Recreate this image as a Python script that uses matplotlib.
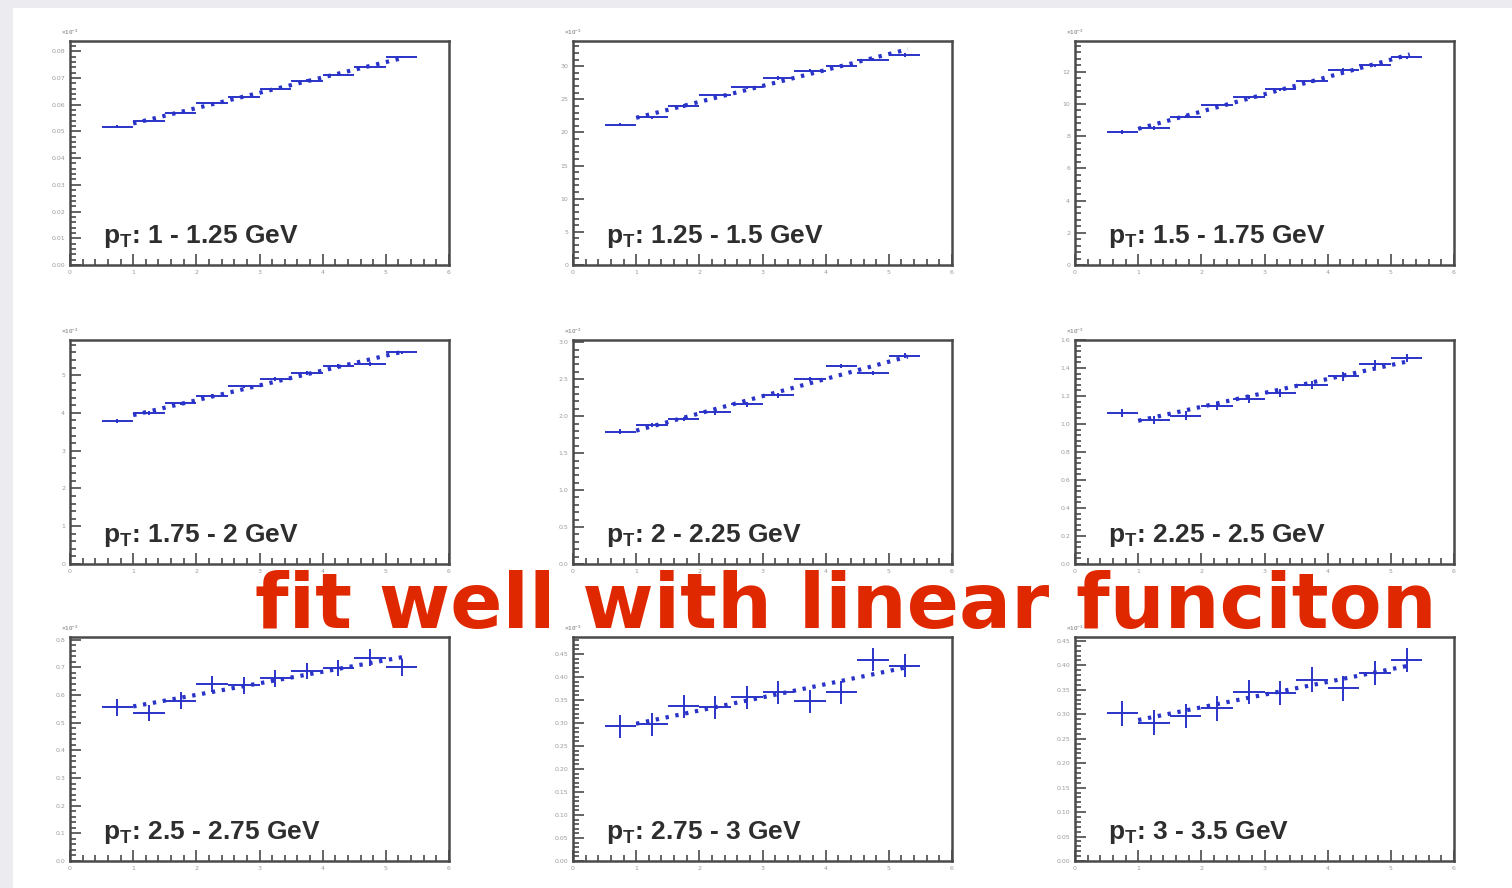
import numpy as np
import matplotlib
matplotlib.use("Agg")
import matplotlib.pyplot as plt
from matplotlib.patches import Rectangle
from matplotlib.ticker import MultipleLocator, AutoMinorLocator

plt.rcParams['mathtext.fontset'] = 'custom'
plt.rcParams['mathtext.rm'] = 'Liberation Sans:bold'
plt.rcParams['mathtext.bf'] = 'Liberation Sans:bold'

# -------- data --------
pt_labels = ["1 - 1.25", "1.25 - 1.5", "1.5 - 1.75",
             "1.75 - 2", "2 - 2.25", "2.25 - 2.5",
             "2.5 - 2.75", "2.75 - 3", "3 - 3.5"]

bin_centers = [0.75, 1.25, 1.75, 2.25, 2.75, 3.25, 3.75, 4.25, 4.75, 5.25]
bin_halfwidth = 0.25

y_p1 = [0.0518, 0.0540, 0.0570, 0.0605, 0.0630, 0.0660, 0.0690, 0.0712, 0.0740, 0.0778]
y_p2 = [21.2, 22.3, 24.0, 25.6, 26.8, 28.2, 29.3, 30.1, 31.0, 31.7]
y_p3 = [8.26, 8.5, 9.2, 9.9, 10.4, 10.9, 11.4, 12.1, 12.4, 12.9]
y_p4 = [3.78, 4.0, 4.25, 4.45, 4.7, 4.9, 5.05, 5.25, 5.3, 5.6]
y_p5 = [1.79, 1.88, 1.96, 2.05, 2.16, 2.28, 2.50, 2.68, 2.58, 2.82]
y_p6 = [1.08, 1.03, 1.06, 1.13, 1.18, 1.22, 1.28, 1.34, 1.43, 1.47]
y_p7 = [0.556, 0.535, 0.58, 0.64, 0.635, 0.66, 0.687, 0.698, 0.735, 0.70]
y_p8 = [0.293, 0.297, 0.336, 0.334, 0.356, 0.367, 0.347, 0.367, 0.437, 0.424]
y_p9 = [0.302, 0.283, 0.297, 0.312, 0.346, 0.343, 0.371, 0.353, 0.384, 0.411]
values = [y_p1, y_p2, y_p3, y_p4, y_p5, y_p6, y_p7, y_p8, y_p9]

y_err = [0.0004, 0.25, 0.1, 0.05, 0.03, 0.03, 0.03, 0.025, 0.025]
y_max = [0.0838, 33.8, 13.9, 5.93, 3.03, 1.6, 0.81, 0.487, 0.458]
y_step = [0.01, 5, 2, 1, 0.5, 0.2, 0.1, 0.05, 0.05]

fit_range = (1.0, 5.3)

BLUE = "#2a33c8"
FRAME = "#4a4a4a"

fig = plt.figure(figsize=(15.12, 8.88), dpi=100)
fig.patch.set_facecolor("#ececf0")
fig.patches.append(Rectangle((13 / 1512, 0), 1, 1 - 8 / 888, transform=fig.transFigure,
                             facecolor="white", edgecolor="none", zorder=-10))

col_left = [70, 573, 1075]
row_top = [41, 340, 637]
W, H = 379, 224

for i in range(9):
    r, c = divmod(i, 3)
    ax = fig.add_axes([col_left[c] / 1512, 1 - (row_top[r] + H) / 888, W / 1512, H / 888])
    ax.patch.set_alpha(0)
    y = np.array(values[i])
    x = np.array(bin_centers)

    ax.errorbar(x, y, xerr=bin_halfwidth, yerr=y_err[i], fmt="none",
                ecolor=BLUE, elinewidth=1.4, capsize=0, zorder=3)
    # linear fit drawn as dotted line
    k, b = np.polyfit(x, y, 1)
    fx = np.array(fit_range)
    ax.plot(fx, k * fx + b, linestyle=(0, (0.8, 1.6)), color=BLUE, lw=3.0, zorder=4)

    ax.set_xlim(0, 6)
    ax.set_ylim(0, y_max[i])
    ax.xaxis.set_major_locator(MultipleLocator(1))
    ax.xaxis.set_minor_locator(AutoMinorLocator(5))
    ax.yaxis.set_major_locator(MultipleLocator(y_step[i]))
    ax.yaxis.set_minor_locator(AutoMinorLocator(5))
    ax.tick_params(which="both", direction="in", top=False, right=False,
                   colors=FRAME, labelcolor="#9a9a9a", labelsize=4.5, width=1.2)
    ax.tick_params(which="major", length=8)
    ax.tick_params(which="minor", length=4)
    for s in ax.spines.values():
        s.set_color(FRAME)
        s.set_linewidth(1.8)
    ax.text(0.0, 1.02, r"$\times10^{-3}$", transform=ax.transAxes,
            fontsize=4.5, color="#9a9a9a", ha="center", va="bottom")
    ax.text(0.087, 0.1, "p$_{\\mathregular{T}}$: " + pt_labels[i] + " GeV",
            transform=ax.transAxes, fontsize=19, fontweight="bold",
            family="Liberation Sans", color="#2e2e2e", va="baseline")

fig.text(846 / 1512, 1 - 628 / 888, "fit well with linear funciton",
         fontsize=55.5, fontweight="bold", family="DejaVu Sans", color="#e02800",
         ha="center", va="baseline", zorder=10)

fig.savefig("out.png", dpi=100, facecolor=fig.get_facecolor())
